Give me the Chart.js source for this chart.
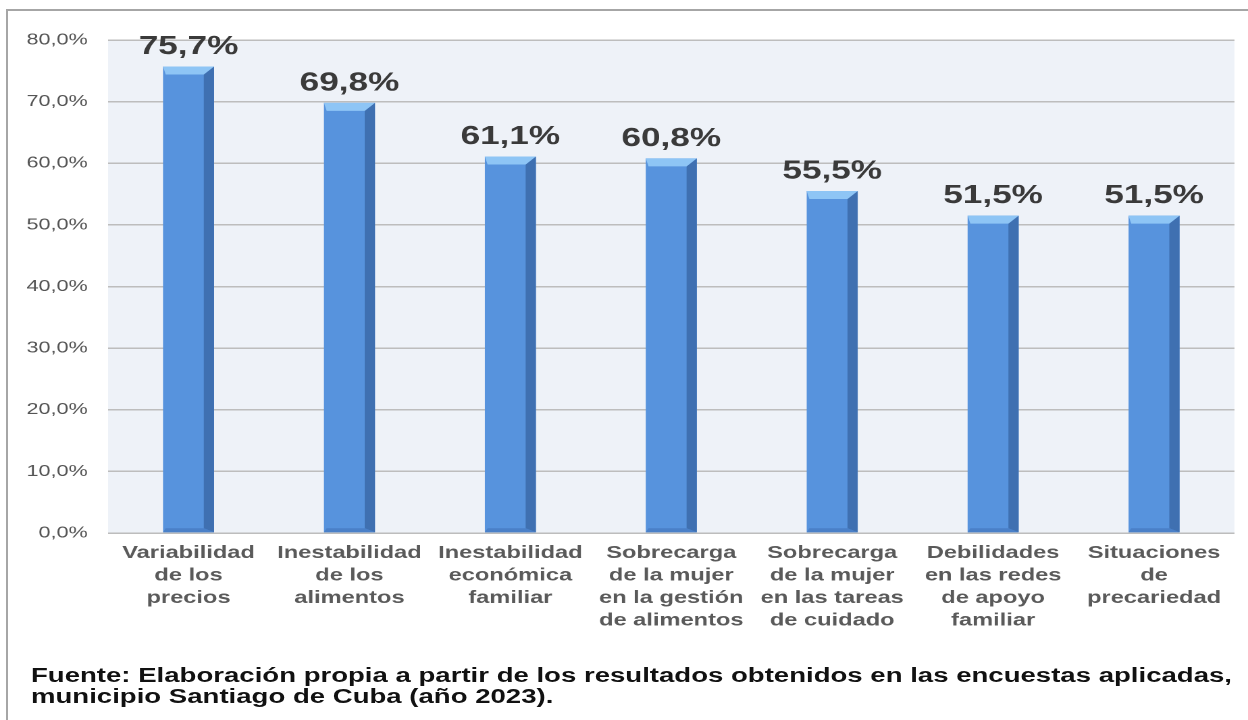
<!DOCTYPE html>
<html>
<head>
<meta charset="utf-8">
<script src="https://cdn.jsdelivr.net/npm/chart.js@4.4.1/dist/chart.umd.min.js"></script>
<style>
  html, body { margin: 0; padding: 0; background: #ffffff; width: 1248px; height: 720px; overflow: hidden; }
  #frame { position: absolute; left: 6px; top: 9px; width: 1250px; height: 720px; border-left: 2px solid #a6a6a6; border-top: 2px solid #a6a6a6; }
  #wrap { position: absolute; left: 0; top: 0; width: 924px; height: 720px; transform-origin: 0 0; transform: scaleX(1.35065); }
  #note { position: absolute; left: 31px; top: 665px; font-family: "Liberation Sans", Arial, sans-serif; font-weight: bold; font-size: 19.5px; line-height: 21px; color: #111; white-space: nowrap; transform-origin: 0 0; }
</style>
</head>
<body>
<div id="frame"></div>
<div id="wrap"><canvas id="c" width="924" height="720"></canvas></div>
<div id="note"><div id="l1">Fuente: Elaboración propia a partir de los resultados obtenidos en las encuestas aplicadas,</div><div id="l2">municipio Santiago de Cuba (año 2023).</div></div>
<script>
const categories = [
  ["Variabilidad", "de los", "precios"],
  ["Inestabilidad", "de los", "alimentos"],
  ["Inestabilidad", "económica", "familiar"],
  ["Sobrecarga", "de la mujer", "en la gestión", "de alimentos"],
  ["Sobrecarga", "de la mujer", "en las tareas", "de cuidado"],
  ["Debilidades", "en las redes", "de apoyo", "familiar"],
  ["Situaciones", "de", "precariedad"]
];
const values = [75.7, 69.8, 61.1, 60.8, 55.5, 51.5, 51.5];
const yTickValues = [0, 10, 20, 30, 40, 50, 60, 70, 80];

function pct(v) { return v.toFixed(1).replace('.', ',') + '%'; }

const plotBg = {
  id: 'plotBg',
  beforeDraw(chart) {
    const a = chart.chartArea, ctx = chart.ctx;
    ctx.save();
    ctx.fillStyle = '#eef2f8';
    ctx.fillRect(a.left, a.top, a.right - a.left, a.bottom - a.top);
    ctx.restore();
  }
};

const bar3d = {
  id: 'bar3d',
  afterDatasetsDraw(chart) {
    const ctx = chart.ctx;
    const meta = chart.getDatasetMeta(0);
    ctx.save();
    meta.data.forEach((b, i) => {
      const w = b.width, L = b.x - w / 2, R = b.x + w / 2, T = b.y, B = b.base;
      const sw = w * 0.2, h = 8;
      // right side
      ctx.fillStyle = '#3f70b1';
      ctx.beginPath();
      ctx.moveTo(R - sw, T + h); ctx.lineTo(R, T); ctx.lineTo(R, B); ctx.lineTo(R - sw, B - 4);
      ctx.closePath(); ctx.fill();
      // bottom bevel
      ctx.fillStyle = '#4a80c8';
      ctx.beginPath();
      ctx.moveTo(L, B); ctx.lineTo(R, B); ctx.lineTo(R - sw, B - 4); ctx.lineTo(L + 2, B - 4);
      ctx.closePath(); ctx.fill();
      // top cap
      ctx.fillStyle = '#8ec5f5';
      ctx.beginPath();
      ctx.moveTo(L, T); ctx.lineTo(R, T); ctx.lineTo(R - sw, T + h); ctx.lineTo(L + 2, T + h);
      ctx.closePath(); ctx.fill();
      // value label
      ctx.fillStyle = '#3a3a3a';
      ctx.font = 'bold 26px "Liberation Sans", Arial, sans-serif';
      ctx.textAlign = 'center';
      ctx.textBaseline = 'alphabetic';
      ctx.fillText(pct(values[i]), b.x, T - 12.5);
    });
    ctx.restore();
  }
};

new Chart(document.getElementById('c'), {
  type: 'bar',
  data: {
    labels: categories,
    datasets: [{
      data: values,
      backgroundColor: '#5793dd',
      borderWidth: 0,
      categoryPercentage: 1,
      barPercentage: 0.317
    }]
  },
  options: {
    responsive: false,
    devicePixelRatio: 2,
    animation: false,
    layout: { padding: { top: 40, right: 10, left: 0, bottom: 0 } },
    plugins: { legend: { display: false }, tooltip: { enabled: false }, title: { display: false } },
    scales: {
      x: {
        grid: { display: false, drawTicks: false },
        border: { display: false },
        ticks: {
          color: '#5a5a5a',
          font: { family: '"Liberation Sans", Arial, sans-serif', size: 17.5, weight: 'bold', lineHeight: 1.286 },
          padding: 9,
          maxRotation: 0,
          autoSkip: false
        },
        afterFit(s) { s.height = 187; }
      },
      y: {
        min: 0, max: 80,
        afterBuildTicks(s) { s.ticks = yTickValues.map(v => ({ value: v })); },
        grid: { color: '#bdbdbd', lineWidth: 1.5, drawTicks: false },
        border: { display: false },
        ticks: {
          color: '#555555',
          font: { family: '"Liberation Sans", Arial, sans-serif', size: 16 },
          padding: 15,
          callback: v => pct(v)
        },
        afterFit(s) { s.width = 80; }
      }
    }
  },
  plugins: [plotBg, bar3d]
});

// fit footnote to reference width
const note = document.getElementById('note');
const l1 = document.getElementById('l1');
const wNat = l1.getBoundingClientRect().width;
note.style.transform = 'scaleX(' + (1201 / wNat) + ')';
</script>
</body>
</html>
